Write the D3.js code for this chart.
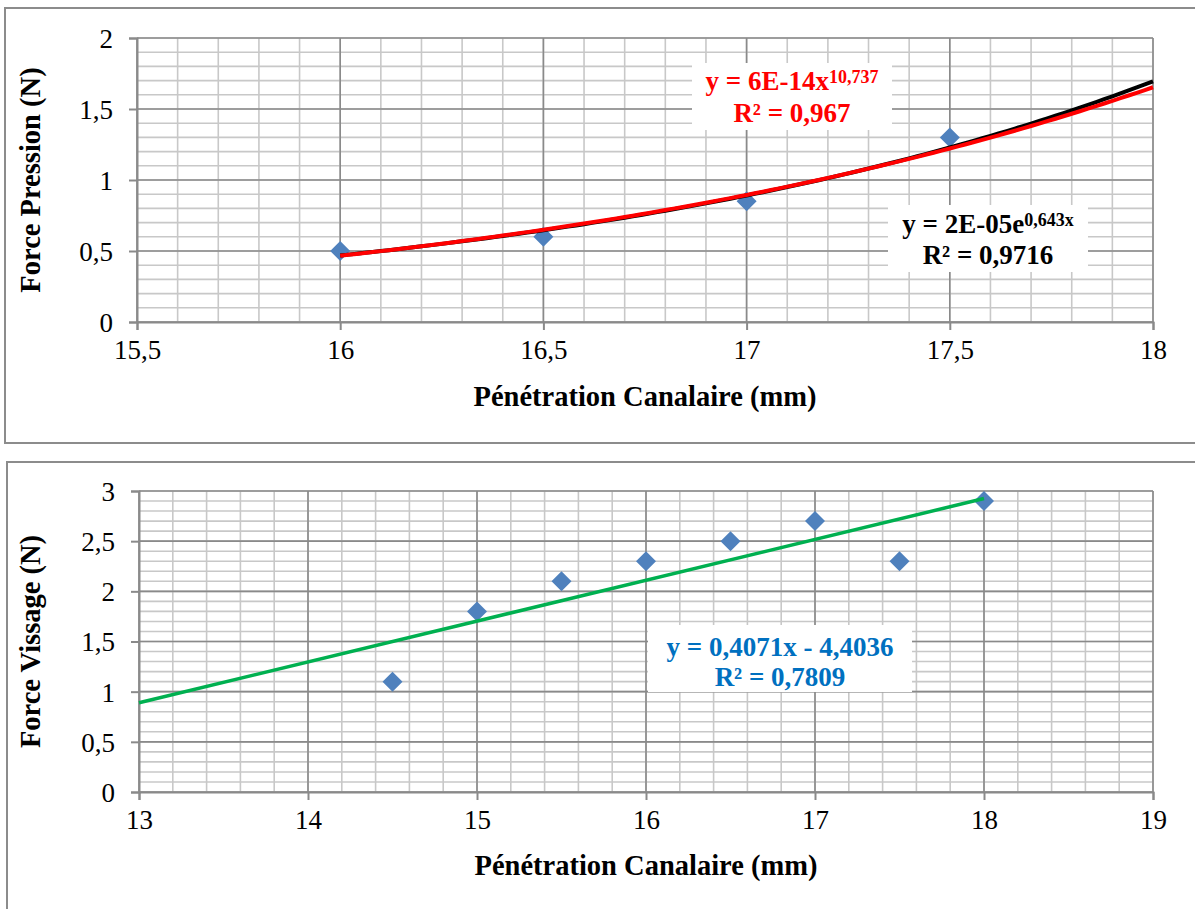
<!DOCTYPE html>
<html><head><meta charset="utf-8">
<script src="https://cdn.jsdelivr.net/npm/d3@7"></script>
<style>body{margin:0;background:#fff}svg{display:block}</style>
</head><body>
<svg id="c" width="1195" height="909"></svg>
<script>
// ---- Data ----
const pressionX = [16, 16.5, 17, 17.5];
const pressionY = [0.5, 0.6, 0.85, 1.3];
const vissageX = [14.5, 15, 15.5, 16, 16.5, 17, 17.5, 18];
const vissageY = [1.1, 1.8, 2.1, 2.3, 2.5, 2.7, 2.3, 2.9];
const topXTicks = [15.5, 16, 16.5, 17, 17.5, 18];
const topYTicks = [0, 0.5, 1, 1.5, 2];
const botXTicks = [13, 14, 15, 16, 17, 18, 19];
const botYTicks = [0, 0.5, 1, 1.5, 2, 2.5, 3];
const xTitle = "Pénétration Canalaire (mm)";
const topYTitle = "Force Pression (N)";
const botYTitle = "Force Vissage (N)";

const svg = d3.select("#c");
const FONT = "'Liberation Serif','DejaVu Serif',serif";
const fmt = v => String(v).replace(".", ",");

function linfit(xs, ys) {
  const n = xs.length, mx = d3.mean(xs), my = d3.mean(ys);
  let sxy = 0, sxx = 0;
  for (let i = 0; i < n; i++) { sxy += (xs[i]-mx)*(ys[i]-my); sxx += (xs[i]-mx)**2; }
  const b = sxy/sxx; return {b, a: my - b*mx};
}

function chart(o) {
  const g = svg.append("g");
  g.append("rect").attr("x", o.frame[0]).attr("y", o.frame[1]).attr("width", o.frame[2]).attr("height", o.frame[3])
    .attr("fill", "#fff").attr("stroke", "#8c8c8c").attr("stroke-width", 2);
  const x = d3.scaleLinear().domain(o.xd).range([o.l, o.r]);
  const y = d3.scaleLinear().domain(o.yd).range([o.b, o.t]);
  const xm = d3.range(Math.round((o.xd[1]-o.xd[0])/o.xminor)+1).map(i => o.xd[0] + i*o.xminor);
  const ym = d3.range(Math.round((o.yd[1]-o.yd[0])/0.1)+1).map(i => o.yd[0] + i*0.1);
  g.append("g").selectAll("line").data(ym).join("line")
    .attr("x1", o.l).attr("x2", o.r).attr("y1", d => y(d)).attr("y2", d => y(d))
    .attr("stroke", "#c8c8c8").attr("stroke-width", 1.6);
  g.append("g").selectAll("line").data(xm).join("line")
    .attr("x1", d => x(d)).attr("x2", d => x(d)).attr("y1", o.t).attr("y2", o.b)
    .attr("stroke", "#c8c8c8").attr("stroke-width", 1.6);
  g.append("g").selectAll("line").data(o.yt).join("line")
    .attr("x1", o.l).attr("x2", o.r).attr("y1", d => y(d)).attr("y2", d => y(d))
    .attr("stroke", "#8a8a8a").attr("stroke-width", 1.6);
  g.append("g").selectAll("line").data(o.xt).join("line")
    .attr("x1", d => x(d)).attr("x2", d => x(d)).attr("y1", o.t).attr("y2", o.b)
    .attr("stroke", "#8a8a8a").attr("stroke-width", 1.6);
  const ax = g.append("g").attr("transform", `translate(0,${o.b})`)
    .call(d3.axisBottom(x).tickValues(o.xt).tickFormat(fmt).tickSize(8).tickPadding(10));
  const ay = g.append("g").attr("transform", `translate(${o.l},0)`)
    .call(d3.axisLeft(y).tickValues(o.yt).tickFormat(fmt).tickSize(8).tickPadding(16));
  [ax, ay].forEach(a => {
    a.select(".domain").attr("stroke", "#8a8a8a").attr("stroke-width", 2);
    a.selectAll(".tick line").attr("stroke", "#8a8a8a").attr("stroke-width", 2);
    a.selectAll("text").attr("font-family", FONT).attr("font-size", 27).attr("fill", "#000");
  });
  ay.selectAll("text").attr("dy", "0.35em");
  g.append("text").attr("x", (o.l+o.r)/2).attr("y", o.xtitleY).attr("text-anchor", "middle")
    .attr("font-family", FONT).attr("font-weight", "bold").attr("font-size", 28.5).text(xTitle);
  g.append("text").attr("transform", `translate(40,${(o.t+o.b)/2}) rotate(-90)`).attr("text-anchor", "middle")
    .attr("font-family", FONT).attr("font-weight", "bold").attr("font-size", 28.5).text(o.ytitle);
  return {g, x, y};
}

function markers(c, xs, ys) {
  const sym = d3.symbol(d3.symbolSquare, 200);
  c.g.append("g").selectAll("path").data(xs).join("path")
    .attr("d", sym).attr("transform", (d, i) => `translate(${c.x(d)},${c.y(ys[i])}) rotate(45)`)
    .attr("fill", "#4f81bd");
}

function label(c, cx, box, lines, color) {
  c.g.append("rect").attr("x", box[0]).attr("y", box[1]).attr("width", box[2]).attr("height", box[3]).attr("fill", "#fff");
  lines.forEach(L => {
    const t = c.g.append("text").attr("x", cx).attr("y", L.y).attr("text-anchor", "middle")
      .attr("font-family", FONT).attr("font-weight", "bold").attr("font-size", 27).attr("fill", color);
    L.parts.forEach(p => {
      const ts = t.append("tspan").text(p.t);
      if (p.sup) ts.attr("font-size", 18).attr("baseline-shift", "40%");
    });
  });
}

// ---- Top chart ----
const c1 = chart({frame: [5, 8, 1200, 435], l: 137, r: 1153, t: 38, b: 322, xd: [15.5, 18], yd: [0, 2],
  xt: topXTicks, yt: topYTicks, xminor: 0.1, xtitleY: 406, ytitle: topYTitle});
markers(c1, pressionX, pressionY);
{
  const e = linfit(pressionX, pressionY.map(Math.log));
  const p = linfit(pressionX.map(Math.log), pressionY.map(Math.log));
  const xs = d3.range(0, 101).map(i => 16 + i*0.02);
  const line = d3.line().x(d => c1.x(d[0])).y(d => c1.y(d[1]));
  c1.g.append("path").attr("d", line(xs.map(v => [v, Math.exp(e.a + e.b*v)])))
    .attr("fill", "none").attr("stroke", "#000").attr("stroke-width", 4);
  c1.g.append("path").attr("d", line(xs.map(v => [v, Math.exp(p.a)*Math.pow(v, p.b)])))
    .attr("fill", "none").attr("stroke", "#ff0000").attr("stroke-width", 4);
}
label(c1, 792, [692, 63, 200, 67], [
  {y: 90, parts: [{t: "y = 6E-14x"}, {t: "10,737", sup: true}]},
  {y: 122, parts: [{t: "R² = 0,967"}]}
], "#ff0000");
label(c1, 988, [888, 205, 200, 67], [
  {y: 233, parts: [{t: "y = 2E-05e"}, {t: "0,643x", sup: true}]},
  {y: 264, parts: [{t: "R² = 0,9716"}]}
], "#000");

// ---- Bottom chart ----
const c2 = chart({frame: [7, 462, 1200, 460], l: 139, r: 1153, t: 491, b: 792, xd: [13, 19], yd: [0, 3],
  xt: botXTicks, yt: botYTicks, xminor: 0.2, xtitleY: 875, ytitle: botYTitle});
markers(c2, vissageX, vissageY);
{
  const f = linfit(vissageX, vissageY);
  const ends = [13, 18];
  c2.g.append("path").attr("d", d3.line().x(d => c2.x(d)).y(d => c2.y(f.a + f.b*d))(ends))
    .attr("fill", "none").attr("stroke", "#00b050").attr("stroke-width", 3.5);
}
label(c2, 780, [648, 625, 264, 67], [
  {y: 656, parts: [{t: "y = 0,4071x - 4,4036"}]},
  {y: 686, parts: [{t: "R² = 0,7809"}]}
], "#0070c0");
</script>
</body></html>
